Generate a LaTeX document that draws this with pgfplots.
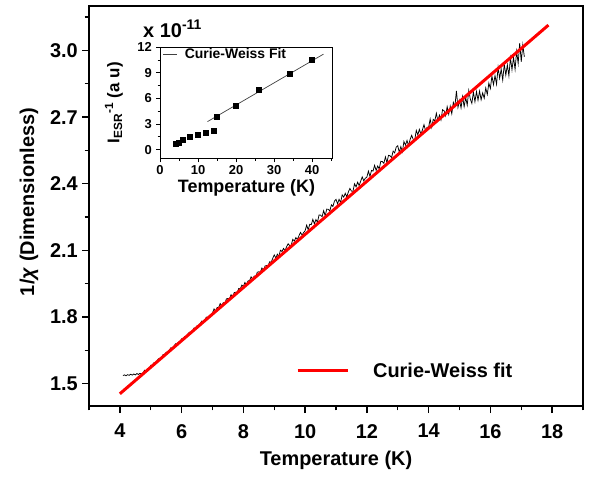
\documentclass[border=0pt]{standalone}
\usepackage{fontspec}
\setmainfont{Liberation Sans}
\usepackage{pgfplots}
\pgfplotsset{compat=1.18}
\begin{document}
\begin{tikzpicture}
\useasboundingbox (0,0) rectangle (601bp,477bp);
% ---------------- main axis ----------------
\begin{axis}[
  at={(89bp,71bp)}, anchor=south west,
  width=494bp, height=400bp, scale only axis,
  xmin=3, xmax=19, ymin=1.4, ymax=3.2,
  xtick={4,6,8,10,12,14,16,18},
  minor xtick={3,5,7,9,11,13,15,17,19},
  ytick={1.5,1.8,2.1,2.4,2.7,3.0},
  minor ytick={1.65,1.95,2.25,2.55,2.85,3.15},
  xtick pos=left, ytick pos=left, tick align=outside,
  major tick length=7bp, minor tick length=4.5bp,
  axis line style={line width=1.6bp},
  every tick/.style={black, line width=1.4bp},
  /pgf/number format/assume math mode=true,
  tick label style={font=\fontsize{20}{20}\selectfont\bfseries, inner sep=0pt},
  xticklabel style={yshift=-11bp},
  yticklabel style={xshift=-4bp, /pgf/number format/fixed, /pgf/number format/fixed zerofill, /pgf/number format/precision=1},
  xlabel={Temperature (K)},
  ylabel={1/\textit{χ} (Dimensionless)},
  every axis x label/.style={at={(axis description cs:0.5,-0.135)}, anchor=center,
    font=\fontsize{20}{20}\selectfont\bfseries},
  every axis y label/.style={at={(axis description cs:-0.1215,0.51)}, anchor=center, rotate=90,
    font=\fontsize{20}{20}\selectfont\bfseries},
  legend style={at={(axis description cs:0.419,0.088)}, anchor=west, draw=none, fill=none,
    inner sep=0pt, font=\fontsize{20}{20}\selectfont\bfseries,
    /tikz/every odd column/.append style={column sep=22bp}},
  legend cell align=left,
  legend image code/.code={\draw[#1] (0bp,0bp) -- (50bp,0bp);},
]
\addplot[black, line width=0.75bp, forget plot] coordinates {
(4.10,1.537) (4.15,1.540) (4.20,1.536) (4.25,1.541) (4.30,1.538) (4.35,1.543) (4.40,1.539)
(4.45,1.544) (4.50,1.540) (4.55,1.546) (4.60,1.542) (4.65,1.547) (4.70,1.544) (4.75,1.549)
(4.80,1.561) (4.85,1.557) (4.90,1.568) (4.95,1.567) (5.00,1.583) (5.05,1.583) (5.10,1.594)
(5.15,1.591) (5.20,1.603) (5.25,1.613) (5.30,1.612) (5.35,1.616) (5.40,1.632) (5.45,1.631)
(5.50,1.642) (5.55,1.640) (5.60,1.651) (5.65,1.662) (5.70,1.659) (5.75,1.668) (5.80,1.680)
(5.85,1.677) (5.90,1.688) (5.95,1.686) (6.00,1.703) (6.05,1.703) (6.10,1.713) (6.15,1.711)
(6.20,1.723) (6.25,1.732) (6.30,1.731) (6.35,1.735) (6.40,1.751) (6.45,1.750) (6.50,1.761)
(6.55,1.760) (6.60,1.771) (6.65,1.782) (6.70,1.779) (6.75,1.787) (6.80,1.800) (6.85,1.796)
(6.90,1.807) (6.95,1.806)
(7.00,1.819) (7.05,1.837) (7.10,1.826) (7.15,1.843) (7.20,1.844) (7.25,1.861) (7.30,1.851)
(7.35,1.865) (7.40,1.860) (7.45,1.882) (7.50,1.884) (7.55,1.882) (7.60,1.901) (7.65,1.889)
(7.70,1.910) (7.75,1.912) (7.80,1.910) (7.85,1.929) (7.90,1.927) (7.95,1.944) (8.00,1.938)
(8.05,1.956) (8.10,1.945) (8.15,1.963) (8.20,1.964) (8.25,1.981) (8.30,1.971) (8.35,1.985)
(8.40,1.980) (8.45,2.002) (8.50,2.004) (8.55,2.002) (8.60,2.021) (8.65,2.009) (8.70,2.030)
(8.75,2.032) (8.80,2.030) (8.85,2.049) (8.90,2.047) (8.95,2.064)
(9.00,2.080) (9.05,2.066) (9.10,2.083) (9.15,2.073) (9.20,2.101) (9.25,2.095) (9.30,2.109)
(9.35,2.099) (9.40,2.117) (9.45,2.130) (9.50,2.122) (9.55,2.124) (9.60,2.150) (9.65,2.142)
(9.70,2.158) (9.75,2.149) (9.80,2.166) (9.85,2.181) (9.90,2.169) (9.95,2.180)
(10.00,2.189) (10.05,2.214) (10.10,2.193) (10.15,2.218) (10.20,2.216) (10.25,2.240) (10.30,2.220)
(10.35,2.239) (10.40,2.227) (10.45,2.259) (10.50,2.259) (10.55,2.252) (10.60,2.279) (10.65,2.256)
(10.70,2.286) (10.75,2.285) (10.80,2.278) (10.85,2.305) (10.90,2.298) (10.95,2.322)
(11.00,2.330) (11.05,2.310) (11.10,2.330) (11.15,2.315) (11.20,2.350) (11.25,2.340) (11.30,2.357)
(11.35,2.341) (11.40,2.363) (11.45,2.379) (11.50,2.367) (11.55,2.366) (11.60,2.400) (11.65,2.386)
(11.70,2.407) (11.75,2.392) (11.80,2.412) (11.85,2.431) (11.90,2.413) (11.95,2.425)
(12.00,2.430) (12.05,2.457) (12.10,2.433) (12.15,2.460) (12.20,2.457) (12.25,2.483) (12.30,2.460)
(12.35,2.480) (12.40,2.467) (12.45,2.501) (12.50,2.500) (12.55,2.492) (12.60,2.521) (12.65,2.495)
(12.70,2.528) (12.75,2.526) (12.80,2.518) (12.85,2.547) (12.90,2.539) (12.95,2.565)
(13.00,2.571) (13.05,2.541) (13.10,2.567) (13.15,2.544) (13.20,2.590) (13.25,2.574) (13.30,2.595)
(13.35,2.571) (13.40,2.599) (13.45,2.618) (13.50,2.600) (13.55,2.597) (13.60,2.640) (13.65,2.620)
(13.70,2.645) (13.75,2.623) (13.80,2.643) (13.85,2.666) (13.90,2.639) (13.95,2.654)
(14.00,2.655) (14.05,2.691) (14.10,2.654) (14.15,2.690) (14.20,2.683) (14.25,2.717) (14.30,2.683)
(14.35,2.709) (14.40,2.687) (14.45,2.733) (14.50,2.729)
(14.55,2.706) (14.60,2.747) (14.65,2.713) (14.70,2.749) (14.75,2.715) (14.80,2.766) (14.85,2.747)
(14.90,2.818) (14.95,2.744) (15.00,2.775) (15.05,2.741) (15.10,2.792) (15.15,2.747) (15.20,2.788)
(15.25,2.754) (15.30,2.820) (15.35,2.781) (15.40,2.762) (15.45,2.813) (15.50,2.769) (15.55,2.815)
(15.60,2.776) (15.65,2.817) (15.70,2.778) (15.75,2.809) (15.80,2.785) (15.85,2.831) (15.90,2.802)
(15.95,2.853) (16.00,2.829) (16.05,2.885) (16.10,2.846) (16.15,2.887) (16.20,2.848) (16.25,2.924)
(16.30,2.875) (16.35,2.916) (16.40,2.867) (16.45,2.938) (16.50,2.889) (16.55,2.935) (16.60,2.886)
(16.65,2.967) (16.70,2.913) (16.75,2.969) (16.80,2.915) (16.85,2.996) (16.90,2.942) (16.95,3.033)
(17.00,2.949) (17.05,3.025) (17.10,2.971)
};
\addplot[red, line width=3bp] coordinates {(4,1.455) (17.88,3.114)};
\addlegendentry{Curie-Weiss fit}
\end{axis}
% ---------------- inset ----------------
\begin{axis}[
  at={(160bp,318.7bp)}, anchor=south west,
  width=173bp, height=111bp, scale only axis,
  clip=false,
  xmin=0, xmax=45.5, ymin=-1, ymax=12,
  xtick={0,10,20,30,40}, minor xtick={5,15,25,35,45},
  ytick={0,3,6,9,12}, minor ytick={1.5,4.5,7.5,10.5},
  xtick pos=left, ytick pos=left, tick align=outside,
  major tick length=4bp, minor tick length=2.5bp,
  axis line style={line width=1bp},
  every tick/.style={black, line width=0.9bp},
  /pgf/number format/assume math mode=true,
  tick label style={font=\fontsize{13}{13}\selectfont\bfseries, inner sep=0pt},
  xticklabel style={yshift=-3bp},
  yticklabel style={xshift=-4bp},
  xlabel={Temperature (K)},
  ylabel={I\textsubscript{ESR}\textsuperscript{-1} (a u)},
  every axis x label/.style={at={(axis description cs:0.5,-0.268)}, anchor=center,
    font=\fontsize{18}{18}\selectfont\bfseries},
  every axis y label/.style={at={(axis description cs:-0.266,0.5)}, anchor=center, rotate=90,
    font=\fontsize{17}{17}\selectfont\bfseries},
  legend style={at={(axis description cs:0.017,0.94)}, anchor=west, draw=none, fill=none,
    inner sep=0pt, font=\fontsize{14}{14}\selectfont\bfseries,
    /tikz/every odd column/.append style={column sep=5bp}},
  legend image code/.code={\draw[#1] (0bp,0bp) -- (14bp,0bp);},
]
\addplot[only marks, mark=square*, mark size=2.5bp, black, forget plot] coordinates {
(4.0,0.74) (4.9,0.86) (5.9,1.2) (7.8,1.56) (9.9,1.76) (12.0,2.0) (14.0,2.2)
(15.0,3.9) (20.0,5.2) (26.0,7.0) (34.0,8.94) (40.0,10.5)
};
\addplot[black!75, line width=0.7bp] coordinates {(12.5,3.3) (43,11.2)};
\addlegendentry{Curie-Weiss Fit}
\node[anchor=base west, font=\fontsize{20}{20}\selectfont\bfseries, inner sep=0pt]
  at (rel axis cs:-0.098,1) [yshift=10bp] {x 10\textsuperscript{-11}};
\end{axis}
\end{tikzpicture}
\end{document}
